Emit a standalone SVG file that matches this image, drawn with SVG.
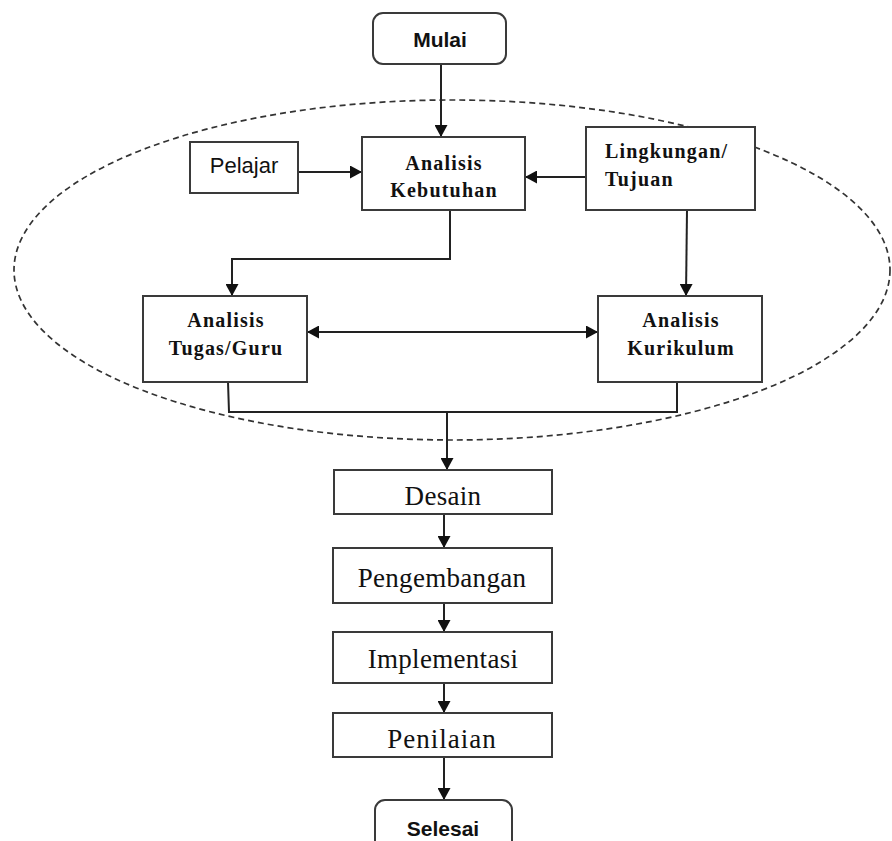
<svg xmlns="http://www.w3.org/2000/svg" width="892" height="841" viewBox="0 0 892 841">
<defs>
<marker id="ah" markerUnits="userSpaceOnUse" markerWidth="13" markerHeight="13" refX="12" refY="6.5" orient="auto-start-reverse" viewBox="0 0 13 13">
<path d="M0,0 L12,6.5 L0,13 z" fill="#111"/>
</marker>
<style>
.box{fill:#fff;stroke:#3a3a3a;stroke-width:2}
.ln{fill:none;stroke:#222;stroke-width:2}
.ar{fill:none;stroke:#222;stroke-width:2;marker-end:url(#ah)}
.sans{font-family:"Liberation Sans",Arial,sans-serif;fill:#111}
.sb{font-family:"Liberation Sans",Arial,sans-serif;font-weight:bold;font-size:21px;fill:#111}
.hb{font-family:"Liberation Serif","Times New Roman",serif;font-weight:bold;font-size:20px;letter-spacing:1.2px;fill:#111}
.tr{font-family:"Liberation Serif","Times New Roman",serif;font-size:27px;letter-spacing:0.3px;fill:#111}
</style>
</defs>
<rect width="892" height="841" fill="#fff"/>
<ellipse cx="452" cy="270" rx="438" ry="170" fill="none" stroke="#333" stroke-width="1.7" stroke-dasharray="6 4"/>
<g id="connectors">
<path class="ar" d="M441,64 L441,137"/>
<path class="ar" d="M298,172 L362,172"/>
<path class="ar" d="M586,177 L525,177"/>
<path class="ar" d="M450,210 L450,259 L232,259 L232,296"/>
<path class="ar" d="M687,210 L686,296"/>
<path class="ar" style="marker-start:url(#ah)" d="M307,332 L598,332"/>
<path class="ln" d="M228,382 L229,412 L677,412 L677,382"/>
<path class="ar" d="M447,412 L447,470"/>
<path class="ar" d="M444,514 L444,548"/>
<path class="ar" d="M444,603 L444,632"/>
<path class="ar" d="M444,683 L444,713"/>
<path class="ar" d="M444,757 L444,800"/>
</g>
<g id="mulai">
<rect class="box" x="373" y="13" width="133" height="51" rx="10"/>
<text class="sb" x="440" y="47" text-anchor="middle">Mulai</text>
</g>
<g id="pelajar">
<rect class="box" x="190" y="142" width="108" height="51"/>
<text class="sans" x="244" y="173" font-size="22" text-anchor="middle">Pelajar</text>
</g>
<g id="analisis-kebutuhan">
<rect class="box" x="362" y="137" width="163" height="73"/>
<text class="hb" x="444" y="170" text-anchor="middle">Analisis</text>
<text class="hb" x="444" y="197" text-anchor="middle">Kebutuhan</text>
</g>
<g id="lingkungan">
<rect class="box" x="586" y="127" width="169" height="83"/>
<text class="hb" x="605" y="158">Lingkungan/</text>
<text class="hb" x="605" y="186">Tujuan</text>
</g>
<g id="analisis-tugas">
<rect class="box" x="143" y="296" width="164" height="86"/>
<text class="hb" x="226" y="327" text-anchor="middle">Analisis</text>
<text class="hb" x="226" y="355" text-anchor="middle">Tugas/Guru</text>
</g>
<g id="analisis-kurikulum">
<rect class="box" x="598" y="296" width="164" height="86"/>
<text class="hb" x="681" y="327" text-anchor="middle">Analisis</text>
<text class="hb" x="681" y="355" text-anchor="middle">Kurikulum</text>
</g>
<g id="desain">
<rect class="box" x="334" y="470" width="218" height="44"/>
<text class="tr" x="443" y="505" text-anchor="middle">Desain</text>
</g>
<g id="pengembangan">
<rect class="box" x="333" y="548" width="219" height="55"/>
<text class="tr" x="442" y="587" text-anchor="middle">Pengembangan</text>
</g>
<g id="implementasi">
<rect class="box" x="333" y="632" width="219" height="51"/>
<text class="tr" x="443" y="668" text-anchor="middle">Implementasi</text>
</g>
<g id="penilaian">
<rect class="box" x="333" y="713" width="219" height="44"/>
<text class="tr" x="442" y="748" text-anchor="middle" style="letter-spacing:1px">Penilaian</text>
</g>
<g id="selesai">
<rect class="box" x="375" y="800" width="137" height="60" rx="10"/>
<text class="sb" x="443" y="836" text-anchor="middle">Selesai</text>
</g>
</svg>
